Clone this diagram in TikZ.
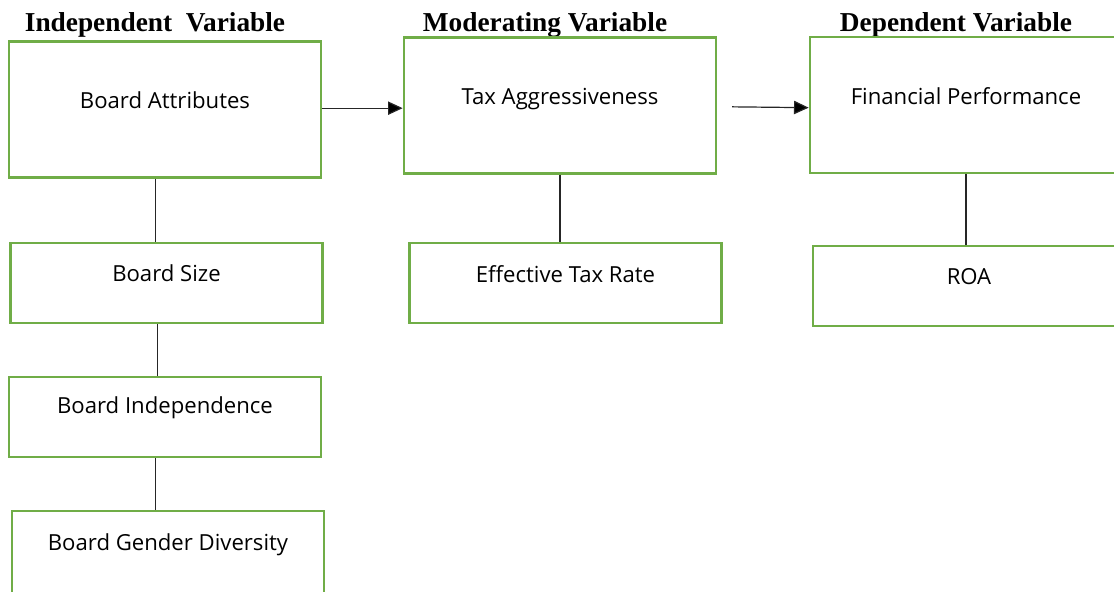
\documentclass[tikz,border=0pt]{standalone}
\usepackage{fontspec}
\setmainfont{Open Sans}
\newfontfamily\headfont{Liberation Serif}
\usetikzlibrary{arrows.meta}
\definecolor{boxgreen}{RGB}{112,173,71}

\begin{document}
\begin{tikzpicture}[x=0.75pt,y=-0.75pt,
  var/.style={draw=boxgreen,line width=2pt,minimum width=234pt,inner sep=0pt},
  big/.style={var,minimum height=102pt},
  small/.style={var,minimum height=60pt},
  head/.style={font=\headfont\bfseries\fontsize{20.5}{22}\selectfont},
  txt/.style={font=\fontsize{16.6}{18}\selectfont,yshift=7pt},
  link/.style={line width=0.9pt,draw=black!85},
  tip/.style={-{Triangle[length=11pt,width=10pt]}}]

\useasboundingbox (0,0) rectangle (1114,592);
\clip (0,0) rectangle (1114,592);

\node[head] (h1) at (155,25) {Independent\ \ Variable};
\node[head] (h2) at (545,25) {Moderating\ Variable};
\node[head] (h3) at (956,25) {Dependent\ Variable};

\node[big,label={[txt]center:Board Attributes}] (v1) at (165,109.5) {};
\node[big,label={[txt,yshift=-2pt]center:Tax Aggressiveness}] (v2) at (560,105.5) {};
\node[big,label={[txt]center:Financial Performance}] (v3) at (966,105) {};
\node[small,label={[txt]center:Board Size}] (v4) at (166.5,283) {};
\node[small,label={[txt]center:Effective Tax Rate}] (v5) at (565.5,283) {};
\node[small,label={[txt]center:ROA}] (v6) at (969,286) {};
\node[small,label={[txt]center:Board Independence}] (v7) at (165,417) {};
\node[small,minimum height=63pt,label={[txt,yshift=-1pt]center:Board Gender Diversity}] (v8) at (168,553) {};

\draw[link] ([yshift=1pt]v1.east) edge[tip] ([yshift=-2pt]v2.west);
\draw[link] ([xshift=11pt,yshift=-1pt]v2.east) edge[tip] ([yshift=-2pt]v3.west);
\draw[link] ([xshift=-7pt]v1.south) -- ([xshift=-7pt]v1.south |- v4.north);
\draw[link] ([xshift=-7pt]v4.south) -- ([xshift=-7pt]v4.south |- v7.north);
\draw[link] ([xshift=-7pt]v7.south) -- ([xshift=-7pt]v7.south |- v8.north);
\draw[link] (v2.south) -- (v2.south |- v5.north);
\draw[link] (v3.south) -- (v3.south |- v6.north);
\end{tikzpicture}
\end{document}
